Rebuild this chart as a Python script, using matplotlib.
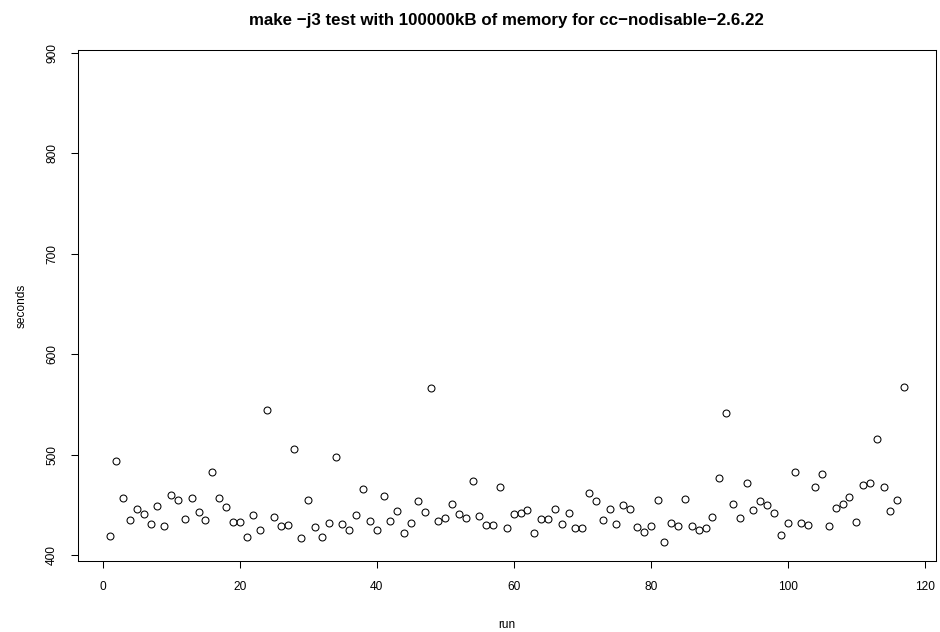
import numpy as np
import matplotlib
matplotlib.use("Agg")
import matplotlib.pyplot as plt

plt.rcParams['font.family'] = ['Liberation Sans', 'DejaVu Sans']

# seconds per make run
seconds = [
    419, 494, 457, 435, 446, 441, 431, 449, 429, 460,
    455, 436, 457, 443, 435, 483, 457, 448, 433, 433,
    418, 440, 425, 545, 438, 429, 430, 506, 417, 455,
    428, 418, 432, 498, 431, 425, 440, 466, 434, 425,
    459, 434, 444, 422, 432, 454, 443, 566, 434, 437,
    451, 441, 437, 474, 439, 430, 430, 468, 427, 441,
    442, 445, 422, 436, 436, 446, 431, 442, 427, 427,
    462, 454, 435, 446, 431, 450, 446, 428, 423, 429,
    455, 413, 432, 429, 456, 429, 425, 427, 438, 477,
    542, 451, 437, 472, 445, 454, 450, 442, 420, 432,
    483, 432, 430, 468, 481, 429, 447, 451, 458, 433,
    470, 472, 516, 468, 444, 455, 567,
]
runs = np.arange(1, len(seconds) + 1)

x_ticks = [0, 20, 40, 60, 80, 100, 120]
y_ticks = [400, 500, 600, 700, 800, 900]

fig = plt.figure(figsize=(9.4, 6.32), dpi=100)
ax = fig.add_axes([0.0827, 0.1123, 0.9130, 0.8081])

ax.plot(runs, seconds, linestyle='none', marker='o', markersize=5,
        markerfacecolor='none', markeredgecolor='black', markeredgewidth=0.75)

ax.set_xlim(-3.64, 121.64)
ax.set_ylim(394.3, 902.4)
ax.set_xticks(x_ticks)
ax.set_yticks(y_ticks)
ax.set_yticklabels([str(v) for v in y_ticks], rotation=90, va='center')

ax.tick_params(direction='out', length=5.2, width=0.75, labelsize=8.6, pad=9)
for sp in ax.spines.values():
    sp.set_linewidth(0.75)

ax.set_xlabel('run', fontsize=8.6, labelpad=19)
ax.set_ylabel('seconds', fontsize=8.6, labelpad=13)
ax.set_title('make \u2212j3 test with 100000kB of memory for cc\u2212nodisable\u22122.6.22',
             fontsize=12.2, fontweight='bold', pad=18)

fig.savefig('out.png', dpi=100)
